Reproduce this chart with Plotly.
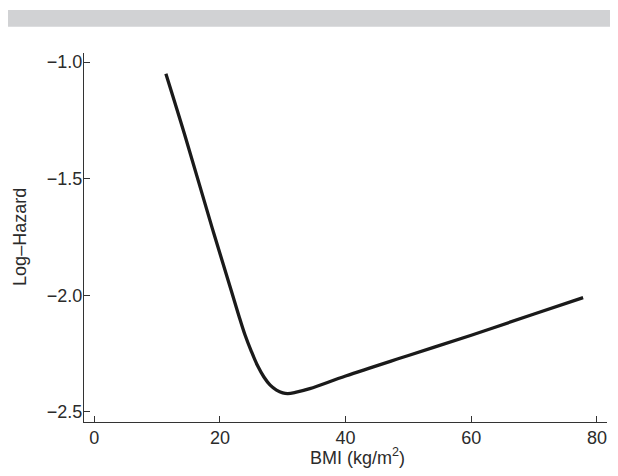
import plotly.graph_objects as go

# Data (BMI vs log-hazard)
bmi = [11.4, 14.5, 18.8, 21.8, 23.0, 24.0, 25.0, 26.0, 27.0, 28.0, 29.0, 30.0, 30.8,
       32.0, 34.3, 40.0, 50.0, 60.0, 70.0, 77.8]
log_hazard = [-1.050, -1.321, -1.714, -1.979, -2.086, -2.170, -2.240, -2.302, -2.350,
              -2.385, -2.406, -2.418, -2.421, -2.416, -2.400, -2.346, -2.258, -2.171,
              -2.080, -2.010]

x_ticks = [0, 20, 40, 60, 80]
y_ticks = [-1.0, -1.5, -2.0, -2.5]
y_tick_labels = ["\u22121.0", "\u22121.5", "\u22122.0", "\u22122.5"]

# page body adds an 8px offset; figure is sized to the visible page area
OFF = 8
W, H = 602, 460
L, R, T, B = 76, 3, 45, 46
pw, ph = W - L - R, H - T - B

def px_x(p):  # p in page pixels
    return (p - OFF - L) / pw

def px_y(p):
    return (H - B - (p - OFF)) / ph

font = dict(family="Liberation Sans, Arial, sans-serif", size=18, color="#2b2b2b")

fig = go.Figure()
fig.add_trace(go.Scatter(
    x=bmi, y=log_hazard, mode="lines",
    line=dict(color="#1a1a1a", width=3.3, shape="spline", smoothing=1.0),
    showlegend=False, hoverinfo="skip"))

axis_common = dict(showline=True, linecolor="#333333", linewidth=1.3,
                   ticks="inside", ticklen=6, tickwidth=1.2, tickcolor="#333333",
                   showgrid=False, zeroline=False, tickfont=font)

fig.update_xaxes(range=[-1.63, 81.6], tickvals=x_ticks, ticktext=[str(v) for v in x_ticks],
                 ticklabelstandoff=-1, **axis_common)
fig.update_yaxes(range=[-2.543, -0.961], tickvals=y_ticks, ticktext=y_tick_labels,
                 ticklabelstandoff=-3, **axis_common)

fig.add_shape(type="rect", xref="paper", yref="paper",
              x0=px_x(-10), x1=px_x(640), y0=px_y(26.7), y1=px_y(10),
              fillcolor="#d1d2d4", line=dict(width=0), layer="below")

fig.add_annotation(text="BMI (kg/m<sup>2</sup>)", xref="paper", yref="paper",
                   x=px_x(357), y=px_y(456), xanchor="center", yanchor="middle",
                   showarrow=False, font=font)
fig.add_annotation(text="Log\u2013Hazard", xref="paper", yref="paper",
                   x=px_x(19.3), y=px_y(236.6), xanchor="center", yanchor="middle",
                   textangle=-90, showarrow=False, font=font)

fig.update_layout(width=W, height=H, margin=dict(l=L, r=R, t=T, b=B, pad=0),
                  paper_bgcolor="white", plot_bgcolor="white")

fig.write_html("out.html")
